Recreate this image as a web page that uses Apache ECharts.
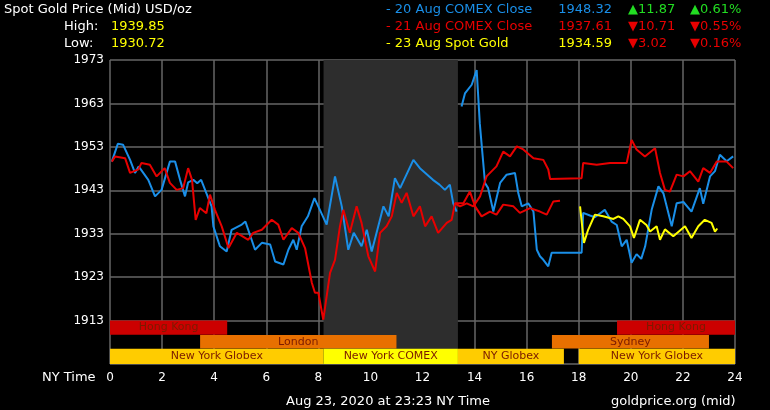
<!DOCTYPE html>
<html>
<head>
<meta charset="utf-8">
<script src="https://cdn.jsdelivr.net/npm/echarts@6/dist/echarts.min.js"></script>
<style>html,body{margin:0;background:#000}#main{width:770px;height:410px}</style>
</head>
<body>
<div id="main"></div>
<script>
// [hour, price]
var aug20 = [[0.07,1949.6],[0.3,1953.7],[0.5,1953.5],[0.77,1950],[0.96,1947],[1.1,1948.5],[1.47,1945.4],[1.73,1941.6],[1.98,1943.1],[2.3,1949.6],[2.5,1949.6],[2.69,1945.4],[2.88,1941.6],[3.0,1944.8],[3.2,1945.4],[3.35,1944.6],[3.5,1945.4],[3.9,1939.3],[3.97,1934.7],[4.22,1930.1],[4.48,1928.9],[4.67,1933.9],[5.06,1935.1],[5.2,1935.8],[5.57,1929.3],[5.83,1930.9],[6.15,1930.5],[6.34,1926.6],[6.66,1925.9],[6.85,1929.3],[7.04,1931.6],[7.17,1929.3],[7.36,1934.7],[7.6,1937],[7.85,1941.2],[8.06,1938.5],[8.32,1935.1],[8.64,1946.2],[8.9,1939.3],[9.15,1929.3],[9.36,1933.2],[9.66,1930.1],[9.86,1933.9],[10.05,1928.9],[10.5,1939.3],[10.7,1937],[10.94,1945.8],[11.14,1943.5],[11.65,1950],[11.9,1948.1],[12.4,1945.4],[12.65,1944.3],[12.86,1943.1],[13.05,1944.3],[13.18,1940],[13.31,1938.1],
  [13.4,null],[13.5,1962.3],[13.63,1965.3],[13.89,1967.3],[14.08,1970.7],[14.2,1958.4],[14.4,1944.7],[14.52,1943.5],[14.72,1938.1],[14.98,1944.7],[15.23,1946.6],[15.55,1947],[15.68,1942.3],[15.81,1939.3],[16.06,1940],[16.26,1938.1],[16.39,1929.3],[16.51,1927.8],[16.64,1927.0],[16.83,1925.5],[16.96,1928.6],[17.3,1928.6],[18.11,1928.6],[18.17,1937.8],[18.43,1937.2],[18.62,1936.8],[19.0,1938.5],[19.26,1935.8],[19.46,1935],[19.65,1930.1],[19.84,1931.6],[20.03,1926.3],[20.22,1928.3],[20.4,1927.2],[20.55,1930.1],[20.8,1938.5],[21.06,1943.9],[21.25,1942.3],[21.57,1934.7],[21.76,1940],[22.02,1940.3],[22.33,1938.1],[22.65,1943.5],[22.78,1939.9],[23.04,1946.2],[23.23,1947.4],[23.42,1951.2],[23.68,1949.7],[23.93,1950.8]];
var aug21 = [[0.07,1949.6],[0.2,1950.8],[0.58,1950.4],[0.77,1947],[1.09,1947.8],[1.21,1949.3],[1.53,1948.9],[1.79,1946.2],[2.1,1948.1],[2.3,1944.7],[2.56,1943.1],[2.81,1943.5],[3.0,1948.1],[3.15,1945.4],[3.29,1936.2],[3.45,1938.9],[3.7,1937.7],[3.84,1942],[4.03,1938.5],[4.29,1934.7],[4.55,1929.7],[4.87,1933.2],[5.31,1931.6],[5.5,1933.2],[5.83,1933.9],[6.21,1936.2],[6.46,1935.1],[6.66,1931.6],[6.98,1934.3],[7.23,1933.2],[7.49,1929.7],[7.75,1921.7],[7.87,1919.4],[8.0,1919.4],[8.19,1913.2],[8.45,1924],[8.64,1927],[8.83,1934.7],[8.96,1938.5],[9.21,1933.2],[9.47,1939.3],[9.66,1935.5],[9.92,1927.8],[10.18,1924.3],[10.37,1933.2],[10.62,1934.7],[10.82,1937],[11.01,1942.4],[11.2,1940.1],[11.39,1942.4],[11.65,1937],[11.9,1939.3],[12.1,1934.7],[12.35,1937],[12.6,1933.2],[12.93,1935.5],[13.12,1936.2],[13.25,1940],[13.44,1939.3],[13.7,1940],[13.95,1939.3],[14.21,1941.6],[14.46,1946.2],[14.84,1948.5],[15.1,1951.9],[15.36,1950.8],[15.62,1953.1],[15.87,1952.4],[16.26,1950.4],[16.64,1950],[16.83,1947.8],[16.9,1945.6],[18.11,1945.8],[18.17,1949.3],[18.69,1948.9],[19.2,1949.3],[19.84,1949.3],[20.03,1954.6],[20.22,1952.4],[20.54,1950.8],[20.93,1952.7],[21.12,1947],[21.31,1943.1],[21.5,1942.7],[21.76,1946.6],[22.02,1946.2],[22.27,1947.4],[22.59,1945],[22.78,1948.1],[23.04,1947],[23.3,1949.6],[23.68,1949.6],[23.93,1948.1]];
var aug21b = [[13.25,1940],[13.57,1940],[13.82,1942.7],[14.02,1939.3],[14.27,1937],[14.59,1938.1],[14.84,1937.4],[15.1,1939.7],[15.49,1939.3],[15.74,1937.8],[16.13,1938.9],[16.51,1938.1],[16.77,1937.4],[17.02,1940.4],[17.28,1940.6]];
var aug23 = [[18.05,1939.3],[18.2,1930.9],[18.36,1933.9],[18.62,1937.4],[18.94,1937],[19.33,1936.4],[19.52,1937],[19.71,1936.4],[19.97,1934.7],[20.12,1932],[20.35,1936.2],[20.6,1935],[20.74,1933.5],[20.99,1934.7],[21.12,1931.6],[21.31,1934],[21.63,1932.4],[22.08,1934.7],[22.33,1932],[22.59,1934.7],[22.84,1936.2],[23.1,1935.5],[23.23,1933.5],[23.32,1934.2]];
// [start, end, row, label, colour]
var sessions = [[0,4.5,0,'Hong Kong','#cc0000'],[19.47,24,0,'Hong Kong','#cc0000'],[3.46,11,1,'London','#e87000'],[16.97,23,1,'Sydney','#e87000'],[0,8.2,2,'New York Globex','#ffcc00'],[8.2,13.36,2,'New York COMEX','#ffff00'],[13.36,17.43,2,'NY Globex','#ffcc00'],[18,24,2,'New York Globex','#ffcc00']];
var rowBands = [[1913,1909.75],[1909.7,1906.55],[1906.5,1903]];
var comexShade = [8.2, 13.36];

var chart = echarts.init(document.getElementById('main'));
var font = 'DejaVu Sans';
function lineSeries(name, data, color) {
  return { name: name, type: 'line', data: data, showSymbol: false, connectNulls: false,
    lineStyle: { color: color, width: 2 }, z: 3, animation: false };
}
var option = {
  backgroundColor: '#000',
  animation: false,
  grid: { left: 110, right: 35, top: 60, bottom: 46 },
  xAxis: { type: 'value', min: 0, max: 24, interval: 2,
    axisLabel: { color: '#fff', fontFamily: font, fontSize: 12, margin: 8 },
    axisLine: { show: false }, axisTick: { show: false },
    splitLine: { lineStyle: { color: '#666', width: 1.5 } } },
  yAxis: { type: 'value', min: 1903, max: 1973, interval: 10,
    axisLabel: { color: '#fff', fontFamily: font, fontSize: 12, margin: 6,
      formatter: function (v) { return v === 1903 ? '' : v; } },
    axisLine: { show: false }, axisTick: { show: false },
    splitLine: { lineStyle: { color: '#666', width: 1.5 } } },
  graphic: [
    { type: 'text', left: 4, top: 3, style: { text: 'Spot Gold Price (Mid) USD/oz', fill: '#fff', font: '13px ' + font } },
    { type: 'text', left: 64, top: 20, style: { text: 'High:', fill: '#fff', font: '13px ' + font } },
    { type: 'text', left: 111, top: 20, style: { text: '1939.85', fill: '#ffff00', font: '13px ' + font } },
    { type: 'text', left: 64, top: 37, style: { text: 'Low:', fill: '#fff', font: '13px ' + font } },
    { type: 'text', left: 111, top: 37, style: { text: '1930.72', fill: '#ffff00', font: '13px ' + font } },
    { type: 'text', left: 386, top: 3, style: { text: '- 20 Aug COMEX Close', fill: '#1a8fe8', font: '13px ' + font } },
    { type: 'text', left: 386, top: 20, style: { text: '- 21 Aug COMEX Close', fill: '#e80000', font: '13px ' + font } },
    { type: 'text', left: 386, top: 37, style: { text: '- 23 Aug Spot Gold', fill: '#ffff00', font: '13px ' + font } },
    { type: 'text', right: 528 - 770 + 770 - 528 + 528 - 528 + 770 - 612, top: 3, style: { text: '1948.32', fill: '#1a8fe8', font: '13px ' + font, align: 'right' } },
    { type: 'text', right: 158, top: 20, style: { text: '1937.61', fill: '#e80000', font: '13px ' + font } },
    { type: 'text', right: 158, top: 37, style: { text: '1934.59', fill: '#ffff00', font: '13px ' + font } },
    { type: 'text', left: 628, top: 3, style: { text: '▲11.87', fill: '#22dd22', font: '13px ' + font } },
    { type: 'text', left: 628, top: 20, style: { text: '▼10.71', fill: '#e80000', font: '13px ' + font } },
    { type: 'text', left: 628, top: 37, style: { text: '▼3.02', fill: '#e80000', font: '13px ' + font } },
    { type: 'text', left: 690, top: 3, style: { text: '▲0.61%', fill: '#22dd22', font: '13px ' + font } },
    { type: 'text', left: 690, top: 20, style: { text: '▼0.55%', fill: '#e80000', font: '13px ' + font } },
    { type: 'text', left: 690, top: 37, style: { text: '▼0.16%', fill: '#e80000', font: '13px ' + font } },
    { type: 'text', left: 42, top: 371, style: { text: 'NY Time', fill: '#fff', font: '13px ' + font } },
    { type: 'text', left: 286, top: 395, style: { text: 'Aug 23, 2020 at 23:23 NY Time', fill: '#fff', font: '13px ' + font } },
    { type: 'text', left: 611, top: 395, style: { text: 'goldprice.org (mid)', fill: '#fff', font: '13px ' + font } }
  ],
  series: [
    { type: 'line', data: [], silent: true,
      markArea: { silent: true, itemStyle: { color: '#2d2d2d' }, data: [[{ xAxis: comexShade[0] }, { xAxis: comexShade[1] }]] } },
    { type: 'custom', data: sessions, z: 4, silent: true,
      renderItem: function (params, api) {
        var s = sessions[params.dataIndex];
        var band = rowBands[s[2]];
        var p0 = api.coord([s[0], band[0]]);
        var p1 = api.coord([s[1], band[1]]);
        return { type: 'group', children: [
          { type: 'rect', shape: { x: p0[0], y: p0[1], width: p1[0] - p0[0], height: p1[1] - p0[1] }, style: { fill: s[4] } },
          { type: 'text', style: { text: s[3], x: (p0[0] + p1[0]) / 2, y: (p0[1] + p1[1]) / 2, align: 'center', verticalAlign: 'middle', fill: '#7a1a00', font: '11px ' + font } }
        ] };
      } },
    lineSeries('20 Aug COMEX Close', aug20, '#1a8fe8'),
    lineSeries('21 Aug COMEX Close', aug21, '#e80000'),
    lineSeries('21 Aug COMEX Close b', aug21b, '#e80000'),
    lineSeries('23 Aug Spot Gold', aug23, '#ffff00')
  ]
};
chart.setOption(option);
window.addEventListener('resize', function () { chart.resize(); });
</script>
</body>
</html>
